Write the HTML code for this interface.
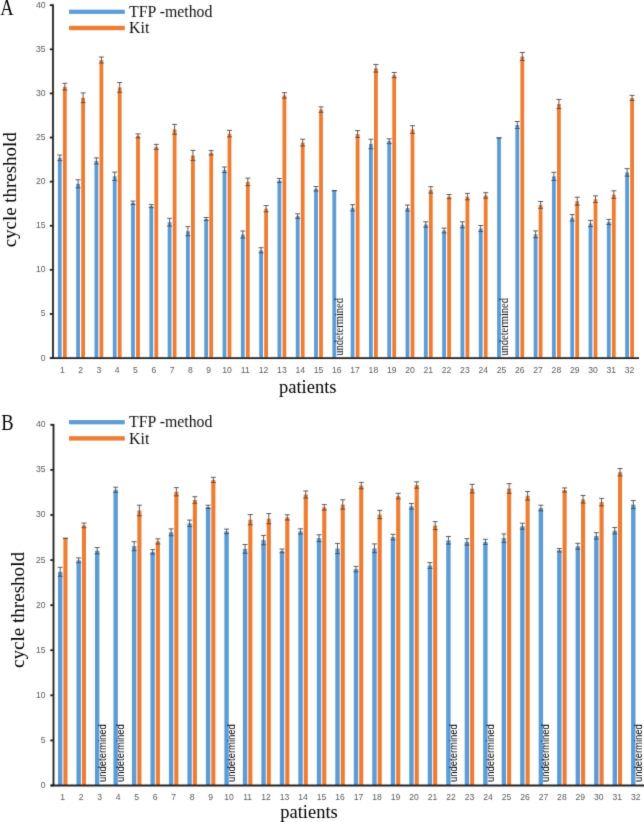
<!DOCTYPE html>
<html><head><meta charset="utf-8"><title>cycle threshold chart</title>
<style>
html,body{margin:0;padding:0;background:#fff;}
body{width:644px;height:822px;overflow:hidden;}
svg{display:block;}
#w{width:644px;height:822px;}
svg path{stroke:#4a4a4a;stroke-width:0.9;fill:none;}
svg path.ax{stroke:#1e1e1e;stroke-width:1.8;}
text{font-family:"Liberation Serif",serif;}
.yl{font-family:"Liberation Sans",sans-serif;font-size:8.6px;fill:#595959;text-anchor:end;}
.xl{font-family:"Liberation Sans",sans-serif;font-size:8.6px;fill:#595959;text-anchor:middle;}
.big{font-size:22.3px;fill:#000;}
.tt{font-size:18.5px;fill:#000;}
.lg{font-size:15.8px;fill:#111;}
.uA{font-family:"Liberation Serif",serif;font-size:11.6px;fill:#111;}
.uB{font-family:"Liberation Sans",sans-serif;font-size:10.3px;fill:#000;}
</style></head>
<body>
<div id="w">
<svg width="644" height="822" viewBox="0 0 644 822">
<defs><filter id="bl" x="0" y="0" width="644" height="822" filterUnits="userSpaceOnUse"><feConvolveMatrix order="3" kernelMatrix="1 6 1 6 40 6 1 6 1" divisor="68" edgeMode="duplicate"/></filter></defs>
<rect width="644" height="822" fill="#fff"/>
<g filter="url(#bl)">
<rect x="57.9" y="157.8" width="3.8" height="200.3" fill="#5B9BD5"/>
<rect x="62.9" y="86.7" width="3.8" height="271.4" fill="#ED7D31"/>
<rect x="76.2" y="183.8" width="3.8" height="174.3" fill="#5B9BD5"/>
<rect x="81.2" y="97.8" width="3.8" height="260.3" fill="#ED7D31"/>
<rect x="94.5" y="160.9" width="3.8" height="197.2" fill="#5B9BD5"/>
<rect x="99.5" y="60" width="3.8" height="298.1" fill="#ED7D31"/>
<rect x="112.8" y="176.3" width="3.8" height="181.8" fill="#5B9BD5"/>
<rect x="117.8" y="87.4" width="3.8" height="270.7" fill="#ED7D31"/>
<rect x="131.1" y="202.8" width="3.8" height="155.3" fill="#5B9BD5"/>
<rect x="136.1" y="135.9" width="3.8" height="222.2" fill="#ED7D31"/>
<rect x="149.4" y="206.1" width="3.8" height="152" fill="#5B9BD5"/>
<rect x="154.4" y="146.9" width="3.8" height="211.2" fill="#ED7D31"/>
<rect x="167.7" y="222.2" width="3.8" height="135.9" fill="#5B9BD5"/>
<rect x="172.7" y="129.3" width="3.8" height="228.8" fill="#ED7D31"/>
<rect x="186" y="231.2" width="3.8" height="126.9" fill="#5B9BD5"/>
<rect x="191" y="155.5" width="3.8" height="202.6" fill="#ED7D31"/>
<rect x="204.3" y="219" width="3.8" height="139.1" fill="#5B9BD5"/>
<rect x="209.3" y="152.8" width="3.8" height="205.3" fill="#ED7D31"/>
<rect x="222.6" y="169.8" width="3.8" height="188.3" fill="#5B9BD5"/>
<rect x="227.6" y="133.6" width="3.8" height="224.5" fill="#ED7D31"/>
<rect x="240.9" y="234.5" width="3.8" height="123.6" fill="#5B9BD5"/>
<rect x="245.9" y="181.9" width="3.8" height="176.2" fill="#ED7D31"/>
<rect x="259.2" y="250.3" width="3.8" height="107.8" fill="#5B9BD5"/>
<rect x="264.2" y="208.7" width="3.8" height="149.4" fill="#ED7D31"/>
<rect x="277.5" y="180.5" width="3.8" height="177.6" fill="#5B9BD5"/>
<rect x="282.5" y="95.4" width="3.8" height="262.7" fill="#ED7D31"/>
<rect x="295.8" y="216.1" width="3.8" height="142" fill="#5B9BD5"/>
<rect x="300.8" y="142.6" width="3.8" height="215.5" fill="#ED7D31"/>
<rect x="314.1" y="188.8" width="3.8" height="169.3" fill="#5B9BD5"/>
<rect x="319.1" y="109.6" width="3.8" height="248.5" fill="#ED7D31"/>
<rect x="332.4" y="190.7" width="3.8" height="167.4" fill="#5B9BD5"/>
<rect x="350.7" y="207.8" width="3.8" height="150.3" fill="#5B9BD5"/>
<rect x="355.7" y="134" width="3.8" height="224.1" fill="#ED7D31"/>
<rect x="369" y="144" width="3.8" height="214.1" fill="#5B9BD5"/>
<rect x="374" y="68.3" width="3.8" height="289.8" fill="#ED7D31"/>
<rect x="387.3" y="141.2" width="3.8" height="216.9" fill="#5B9BD5"/>
<rect x="392.3" y="75.1" width="3.8" height="283" fill="#ED7D31"/>
<rect x="405.6" y="208" width="3.8" height="150.1" fill="#5B9BD5"/>
<rect x="410.6" y="129.5" width="3.8" height="228.6" fill="#ED7D31"/>
<rect x="423.9" y="224.5" width="3.8" height="133.6" fill="#5B9BD5"/>
<rect x="428.9" y="189.9" width="3.8" height="168.2" fill="#ED7D31"/>
<rect x="442.2" y="230.5" width="3.8" height="127.6" fill="#5B9BD5"/>
<rect x="447.2" y="196.6" width="3.8" height="161.5" fill="#ED7D31"/>
<rect x="460.5" y="224.8" width="3.8" height="133.3" fill="#5B9BD5"/>
<rect x="465.5" y="196.6" width="3.8" height="161.5" fill="#ED7D31"/>
<rect x="478.8" y="228.5" width="3.8" height="129.6" fill="#5B9BD5"/>
<rect x="483.8" y="195.4" width="3.8" height="162.7" fill="#ED7D31"/>
<rect x="497.1" y="137.9" width="3.8" height="220.2" fill="#5B9BD5"/>
<rect x="515.4" y="125" width="3.8" height="233.1" fill="#5B9BD5"/>
<rect x="520.4" y="56.5" width="3.8" height="301.6" fill="#ED7D31"/>
<rect x="533.7" y="234.3" width="3.8" height="123.8" fill="#5B9BD5"/>
<rect x="538.7" y="204.9" width="3.8" height="153.2" fill="#ED7D31"/>
<rect x="552" y="176.4" width="3.8" height="181.7" fill="#5B9BD5"/>
<rect x="557" y="104" width="3.8" height="254.1" fill="#ED7D31"/>
<rect x="570.3" y="217.8" width="3.8" height="140.3" fill="#5B9BD5"/>
<rect x="575.3" y="201.2" width="3.8" height="156.9" fill="#ED7D31"/>
<rect x="588.6" y="223.5" width="3.8" height="134.6" fill="#5B9BD5"/>
<rect x="593.6" y="199.2" width="3.8" height="158.9" fill="#ED7D31"/>
<rect x="606.9" y="222" width="3.8" height="136.1" fill="#5B9BD5"/>
<rect x="611.9" y="194.6" width="3.8" height="163.5" fill="#ED7D31"/>
<rect x="625.2" y="172.4" width="3.8" height="185.7" fill="#5B9BD5"/>
<rect x="630.2" y="98" width="3.8" height="260.1" fill="#ED7D31"/>
<path d="M57.3 155H62.3M57.3 160.6H62.3M59.8 155V160.6"/>
<path d="M62.3 83.3H67.3M62.3 90.1H67.3M64.8 83.3V90.1"/>
<path d="M75.6 179.8H80.6M75.6 187.8H80.6M78.1 179.8V187.8"/>
<path d="M80.6 92.9H85.6M80.6 102.7H85.6M83.1 92.9V102.7"/>
<path d="M93.9 157.9H98.9M93.9 163.9H98.9M96.4 157.9V163.9"/>
<path d="M98.9 57H103.9M98.9 63H103.9M101.4 57V63"/>
<path d="M112.2 172.1H117.2M112.2 180.5H117.2M114.7 172.1V180.5"/>
<path d="M117.2 82.5H122.2M117.2 92.3H122.2M119.7 82.5V92.3"/>
<path d="M130.5 201.1H135.5M130.5 204.5H135.5M133 201.1V204.5"/>
<path d="M135.5 133.9H140.5M135.5 137.9H140.5M138 133.9V137.9"/>
<path d="M148.8 204.6H153.8M148.8 207.6H153.8M151.3 204.6V207.6"/>
<path d="M153.8 144.4H158.8M153.8 149.4H158.8M156.3 144.4V149.4"/>
<path d="M167.1 218.3H172.1M167.1 226.1H172.1M169.6 218.3V226.1"/>
<path d="M172.1 124.4H177.1M172.1 134.2H177.1M174.6 124.4V134.2"/>
<path d="M185.4 226.6H190.4M185.4 235.8H190.4M187.9 226.6V235.8"/>
<path d="M190.4 150.4H195.4M190.4 160.6H195.4M192.9 150.4V160.6"/>
<path d="M203.7 217.5H208.7M203.7 220.5H208.7M206.2 217.5V220.5"/>
<path d="M208.7 150.6H213.7M208.7 155H213.7M211.2 150.6V155"/>
<path d="M222 167H227M222 172.6H227M224.5 167V172.6"/>
<path d="M227 130.4H232M227 136.8H232M229.5 130.4V136.8"/>
<path d="M240.3 231H245.3M240.3 238H245.3M242.8 231V238"/>
<path d="M245.3 178.1H250.3M245.3 185.7H250.3M247.8 178.1V185.7"/>
<path d="M258.6 247.7H263.6M258.6 252.9H263.6M261.1 247.7V252.9"/>
<path d="M263.6 205.6H268.6M263.6 211.8H268.6M266.1 205.6V211.8"/>
<path d="M276.9 178.5H281.9M276.9 182.5H281.9M279.4 178.5V182.5"/>
<path d="M281.9 92.7H286.9M281.9 98.1H286.9M284.4 92.7V98.1"/>
<path d="M295.2 213.8H300.2M295.2 218.4H300.2M297.7 213.8V218.4"/>
<path d="M300.2 139.2H305.2M300.2 146H305.2M302.7 139.2V146"/>
<path d="M313.5 186.5H318.5M313.5 191.1H318.5M316 186.5V191.1"/>
<path d="M318.5 106.9H323.5M318.5 112.3H323.5M321 106.9V112.3"/>
<path d="M331.8 190.7H336.8M331.8 190.7H336.8"/>
<path d="M350.1 204.7H355.1M350.1 210.9H355.1M352.6 204.7V210.9"/>
<path d="M355.1 130.6H360.1M355.1 137.4H360.1M357.6 130.6V137.4"/>
<path d="M368.4 139.2H373.4M368.4 148.8H373.4M370.9 139.2V148.8"/>
<path d="M373.4 64.5H378.4M373.4 72.1H378.4M375.9 64.5V72.1"/>
<path d="M386.7 138.8H391.7M386.7 143.6H391.7M389.2 138.8V143.6"/>
<path d="M391.7 72.5H396.7M391.7 77.7H396.7M394.2 72.5V77.7"/>
<path d="M405 205H410M405 211H410M407.5 205V211"/>
<path d="M410 125.7H415M410 133.3H415M412.5 125.7V133.3"/>
<path d="M423.3 221.8H428.3M423.3 227.2H428.3M425.8 221.8V227.2"/>
<path d="M428.3 186.7H433.3M428.3 193.1H433.3M430.8 186.7V193.1"/>
<path d="M441.6 228.1H446.6M441.6 232.9H446.6M444.1 228.1V232.9"/>
<path d="M446.6 194.5H451.6M446.6 198.7H451.6M449.1 194.5V198.7"/>
<path d="M459.9 221.8H464.9M459.9 227.8H464.9M462.4 221.8V227.8"/>
<path d="M464.9 193.4H469.9M464.9 199.8H469.9M467.4 193.4V199.8"/>
<path d="M478.2 225.5H483.2M478.2 231.5H483.2M480.7 225.5V231.5"/>
<path d="M483.2 192.7H488.2M483.2 198.1H488.2M485.7 192.7V198.1"/>
<path d="M496.5 137.9H501.5M496.5 137.9H501.5"/>
<path d="M514.8 121.5H519.8M514.8 128.5H519.8M517.3 121.5V128.5"/>
<path d="M519.8 52.5H524.8M519.8 60.5H524.8M522.3 52.5V60.5"/>
<path d="M533.1 230.9H538.1M533.1 237.7H538.1M535.6 230.9V237.7"/>
<path d="M538.1 201.5H543.1M538.1 208.3H543.1M540.6 201.5V208.3"/>
<path d="M551.4 172.3H556.4M551.4 180.5H556.4M553.9 172.3V180.5"/>
<path d="M556.4 99.4H561.4M556.4 108.6H561.4M558.9 99.4V108.6"/>
<path d="M569.7 214.6H574.7M569.7 221H574.7M572.2 214.6V221"/>
<path d="M574.7 197.2H579.7M574.7 205.2H579.7M577.2 197.2V205.2"/>
<path d="M588 220.4H593M588 226.6H593M590.5 220.4V226.6"/>
<path d="M593 195.9H598M593 202.5H598M595.5 195.9V202.5"/>
<path d="M606.3 219.4H611.3M606.3 224.6H611.3M608.8 219.4V224.6"/>
<path d="M611.3 190.8H616.3M611.3 198.4H616.3M613.8 190.8V198.4"/>
<path d="M624.6 168.6H629.6M624.6 176.2H629.6M627.1 168.6V176.2"/>
<path d="M629.6 95.4H634.6M629.6 100.6H634.6M632.1 95.4V100.6"/>
<text class="uA" transform="translate(343.2 355.8) rotate(-90)" textLength="57.8" lengthAdjust="spacingAndGlyphs">undetermined</text>
<text class="uA" transform="translate(507.9 355.8) rotate(-90)" textLength="57.8" lengthAdjust="spacingAndGlyphs">undetermined</text>
<path class="ax" d="M53 4.3V358.1"/>
<path class="ax" d="M49.8 358.1H53"/>
<path class="ax" d="M49.8 313.99H53"/>
<path class="ax" d="M49.8 269.88H53"/>
<path class="ax" d="M49.8 225.76H53"/>
<path class="ax" d="M49.8 181.65H53"/>
<path class="ax" d="M49.8 137.54H53"/>
<path class="ax" d="M49.8 93.42H53"/>
<path class="ax" d="M49.8 49.31H53"/>
<path class="ax" d="M49.8 5.2H53"/>
<path class="ax" d="M50.4 358.1H639"/>
<text class="yl" x="45.6" y="360.6">0</text>
<text class="yl" x="45.6" y="316.49">5</text>
<text class="yl" x="45.6" y="272.38">10</text>
<text class="yl" x="45.6" y="228.26">15</text>
<text class="yl" x="45.6" y="184.15">20</text>
<text class="yl" x="45.6" y="140.04">25</text>
<text class="yl" x="45.6" y="95.92">30</text>
<text class="yl" x="45.6" y="51.81">35</text>
<text class="yl" x="45.6" y="7.7">40</text>
<text class="xl" x="62.3" y="372.7">1</text>
<text class="xl" x="80.6" y="372.7">2</text>
<text class="xl" x="98.9" y="372.7">3</text>
<text class="xl" x="117.2" y="372.7">4</text>
<text class="xl" x="135.5" y="372.7">5</text>
<text class="xl" x="153.8" y="372.7">6</text>
<text class="xl" x="172.1" y="372.7">7</text>
<text class="xl" x="190.4" y="372.7">8</text>
<text class="xl" x="208.7" y="372.7">9</text>
<text class="xl" x="227" y="372.7">10</text>
<text class="xl" x="245.3" y="372.7">11</text>
<text class="xl" x="263.6" y="372.7">12</text>
<text class="xl" x="281.9" y="372.7">13</text>
<text class="xl" x="300.2" y="372.7">14</text>
<text class="xl" x="318.5" y="372.7">15</text>
<text class="xl" x="336.8" y="372.7">16</text>
<text class="xl" x="355.1" y="372.7">17</text>
<text class="xl" x="373.4" y="372.7">18</text>
<text class="xl" x="391.7" y="372.7">19</text>
<text class="xl" x="410" y="372.7">20</text>
<text class="xl" x="428.3" y="372.7">21</text>
<text class="xl" x="446.6" y="372.7">22</text>
<text class="xl" x="464.9" y="372.7">23</text>
<text class="xl" x="483.2" y="372.7">24</text>
<text class="xl" x="501.5" y="372.7">25</text>
<text class="xl" x="519.8" y="372.7">26</text>
<text class="xl" x="538.1" y="372.7">27</text>
<text class="xl" x="556.4" y="372.7">28</text>
<text class="xl" x="574.7" y="372.7">29</text>
<text class="xl" x="593" y="372.7">30</text>
<text class="xl" x="611.3" y="372.7">31</text>
<text class="xl" x="629.6" y="372.7">32</text>
<text class="big" transform="translate(0.3 14.9) scale(0.83 1)">A</text>
<text class="tt" transform="translate(16.2 247.3) rotate(-90)" textLength="115" lengthAdjust="spacingAndGlyphs">cycle threshold</text>
<text class="tt" x="279" y="392.8">patients</text>
<rect x="69" y="9.7" width="55.8" height="4.2" fill="#5B9BD5"/>
<rect x="69" y="25.8" width="55.8" height="4.4" fill="#ED7D31"/>
<text class="lg" x="129.1" y="16.8">TFP -method</text>
<text class="lg" x="129.1" y="33.3">Kit</text>
<rect x="58" y="571.8" width="4.4" height="213.7" fill="#5B9BD5"/>
<rect x="63.4" y="538.3" width="4.1" height="247.2" fill="#ED7D31"/>
<rect x="76.49" y="560.3" width="4.4" height="225.2" fill="#5B9BD5"/>
<rect x="81.89" y="525.4" width="4.1" height="260.1" fill="#ED7D31"/>
<rect x="94.97" y="550.7" width="4.4" height="234.8" fill="#5B9BD5"/>
<rect x="113.46" y="489.8" width="4.4" height="295.7" fill="#5B9BD5"/>
<rect x="131.95" y="546.2" width="4.4" height="239.3" fill="#5B9BD5"/>
<rect x="137.35" y="510.5" width="4.1" height="275" fill="#ED7D31"/>
<rect x="150.44" y="551.9" width="4.4" height="233.6" fill="#5B9BD5"/>
<rect x="155.84" y="541.4" width="4.1" height="244.1" fill="#ED7D31"/>
<rect x="168.92" y="532.3" width="4.4" height="253.2" fill="#5B9BD5"/>
<rect x="174.32" y="491.7" width="4.1" height="293.8" fill="#ED7D31"/>
<rect x="187.41" y="523.3" width="4.4" height="262.2" fill="#5B9BD5"/>
<rect x="192.81" y="500" width="4.1" height="285.5" fill="#ED7D31"/>
<rect x="205.9" y="506.9" width="4.4" height="278.6" fill="#5B9BD5"/>
<rect x="211.3" y="479.9" width="4.1" height="305.6" fill="#ED7D31"/>
<rect x="224.38" y="531.4" width="4.4" height="254.1" fill="#5B9BD5"/>
<rect x="242.87" y="548.9" width="4.4" height="236.6" fill="#5B9BD5"/>
<rect x="248.27" y="519.7" width="4.1" height="265.8" fill="#ED7D31"/>
<rect x="261.36" y="540.1" width="4.4" height="245.4" fill="#5B9BD5"/>
<rect x="266.76" y="518.7" width="4.1" height="266.8" fill="#ED7D31"/>
<rect x="279.84" y="550.9" width="4.4" height="234.6" fill="#5B9BD5"/>
<rect x="285.24" y="517.4" width="4.1" height="268.1" fill="#ED7D31"/>
<rect x="298.33" y="531.4" width="4.4" height="254.1" fill="#5B9BD5"/>
<rect x="303.73" y="494.5" width="4.1" height="291" fill="#ED7D31"/>
<rect x="316.82" y="538.2" width="4.4" height="247.3" fill="#5B9BD5"/>
<rect x="322.22" y="507.3" width="4.1" height="278.2" fill="#ED7D31"/>
<rect x="335.3" y="548.5" width="4.4" height="237" fill="#5B9BD5"/>
<rect x="340.7" y="504.5" width="4.1" height="281" fill="#ED7D31"/>
<rect x="353.79" y="569.1" width="4.4" height="216.4" fill="#5B9BD5"/>
<rect x="359.19" y="485.6" width="4.1" height="299.9" fill="#ED7D31"/>
<rect x="372.28" y="548.3" width="4.4" height="237.2" fill="#5B9BD5"/>
<rect x="377.68" y="514.5" width="4.1" height="271" fill="#ED7D31"/>
<rect x="390.77" y="537.1" width="4.4" height="248.4" fill="#5B9BD5"/>
<rect x="396.17" y="496.1" width="4.1" height="289.4" fill="#ED7D31"/>
<rect x="409.25" y="506.3" width="4.4" height="279.2" fill="#5B9BD5"/>
<rect x="414.65" y="485" width="4.1" height="300.5" fill="#ED7D31"/>
<rect x="427.74" y="565.5" width="4.4" height="220" fill="#5B9BD5"/>
<rect x="433.14" y="525.6" width="4.1" height="259.9" fill="#ED7D31"/>
<rect x="446.23" y="540.3" width="4.4" height="245.2" fill="#5B9BD5"/>
<rect x="464.71" y="541.9" width="4.4" height="243.6" fill="#5B9BD5"/>
<rect x="470.11" y="488.6" width="4.1" height="296.9" fill="#ED7D31"/>
<rect x="483.2" y="541.9" width="4.4" height="243.6" fill="#5B9BD5"/>
<rect x="501.69" y="538.2" width="4.4" height="247.3" fill="#5B9BD5"/>
<rect x="507.09" y="488.5" width="4.1" height="297" fill="#ED7D31"/>
<rect x="520.17" y="526.2" width="4.4" height="259.3" fill="#5B9BD5"/>
<rect x="525.57" y="495.8" width="4.1" height="289.7" fill="#ED7D31"/>
<rect x="538.66" y="508" width="4.4" height="277.5" fill="#5B9BD5"/>
<rect x="557.15" y="550.2" width="4.4" height="235.3" fill="#5B9BD5"/>
<rect x="562.55" y="490" width="4.1" height="295.5" fill="#ED7D31"/>
<rect x="575.64" y="546.3" width="4.4" height="239.2" fill="#5B9BD5"/>
<rect x="581.04" y="499.3" width="4.1" height="286.2" fill="#ED7D31"/>
<rect x="594.12" y="535.9" width="4.4" height="249.6" fill="#5B9BD5"/>
<rect x="599.52" y="502.1" width="4.1" height="283.4" fill="#ED7D31"/>
<rect x="612.61" y="530.7" width="4.4" height="254.8" fill="#5B9BD5"/>
<rect x="618.01" y="472.2" width="4.1" height="313.3" fill="#ED7D31"/>
<rect x="631.1" y="504.6" width="4.4" height="280.9" fill="#5B9BD5"/>
<path d="M57.7 567.3H62.7M57.7 576.3H62.7M60.2 567.3V576.3"/>
<path d="M62.95 538.3H67.95M62.95 538.3H67.95"/>
<path d="M76.19 557.9H81.19M76.19 562.7H81.19M78.69 557.9V562.7"/>
<path d="M81.44 523.1H86.44M81.44 527.7H86.44M83.94 523.1V527.7"/>
<path d="M94.67 547.6H99.67M94.67 553.8H99.67M97.17 547.6V553.8"/>
<path d="M113.16 487.2H118.16M113.16 492.4H118.16M115.66 487.2V492.4"/>
<path d="M131.65 541.7H136.65M131.65 550.7H136.65M134.15 541.7V550.7"/>
<path d="M136.9 505.2H141.9M136.9 515.8H141.9M139.4 505.2V515.8"/>
<path d="M150.13 549.6H155.13M150.13 554.2H155.13M152.63 549.6V554.2"/>
<path d="M155.39 538.8H160.39M155.39 544H160.39M157.89 538.8V544"/>
<path d="M168.62 528.9H173.62M168.62 535.7H173.62M171.12 528.9V535.7"/>
<path d="M173.87 487.6H178.87M173.87 495.8H178.87M176.37 487.6V495.8"/>
<path d="M187.11 520.1H192.11M187.11 526.5H192.11M189.61 520.1V526.5"/>
<path d="M192.36 496.7H197.36M192.36 503.3H197.36M194.86 496.7V503.3"/>
<path d="M205.6 505.2H210.6M205.6 508.6H210.6M208.1 505.2V508.6"/>
<path d="M210.85 477.3H215.85M210.85 482.5H215.85M213.35 477.3V482.5"/>
<path d="M224.08 529.1H229.08M224.08 533.7H229.08M226.58 529.1V533.7"/>
<path d="M242.57 544.5H247.57M242.57 553.3H247.57M245.07 544.5V553.3"/>
<path d="M247.82 514.6H252.82M247.82 524.8H252.82M250.32 514.6V524.8"/>
<path d="M261.06 535.4H266.06M261.06 544.8H266.06M263.56 535.4V544.8"/>
<path d="M266.31 513.6H271.31M266.31 523.8H271.31M268.81 513.6V523.8"/>
<path d="M279.54 549H284.54M279.54 552.8H284.54M282.04 549V552.8"/>
<path d="M284.79 514.8H289.79M284.79 520H289.79M287.29 514.8V520"/>
<path d="M298.03 528.8H303.03M298.03 534H303.03M300.53 528.8V534"/>
<path d="M303.28 490.9H308.28M303.28 498.1H308.28M305.78 490.9V498.1"/>
<path d="M316.52 534.8H321.52M316.52 541.6H321.52M319.02 534.8V541.6"/>
<path d="M321.77 504.6H326.77M321.77 510H326.77M324.27 504.6V510"/>
<path d="M335 543.4H340M335 553.6H340M337.5 543.4V553.6"/>
<path d="M340.25 499.8H345.25M340.25 509.2H345.25M342.75 499.8V509.2"/>
<path d="M353.49 566.4H358.49M353.49 571.8H358.49M355.99 566.4V571.8"/>
<path d="M358.74 482.4H363.74M358.74 488.8H363.74M361.24 482.4V488.8"/>
<path d="M371.98 543.9H376.98M371.98 552.7H376.98M374.48 543.9V552.7"/>
<path d="M377.23 510.4H382.23M377.23 518.6H382.23M379.73 510.4V518.6"/>
<path d="M390.47 534.3H395.47M390.47 539.9H395.47M392.97 534.3V539.9"/>
<path d="M395.72 493.3H400.72M395.72 498.9H400.72M398.22 493.3V498.9"/>
<path d="M408.95 503.5H413.95M408.95 509.1H413.95M411.45 503.5V509.1"/>
<path d="M414.2 481.8H419.2M414.2 488.2H419.2M416.7 481.8V488.2"/>
<path d="M427.44 562.6H432.44M427.44 568.4H432.44M429.94 562.6V568.4"/>
<path d="M432.69 521.6H437.69M432.69 529.6H437.69M435.19 521.6V529.6"/>
<path d="M445.93 536.5H450.93M445.93 544.1H450.93M448.43 536.5V544.1"/>
<path d="M464.41 538.7H469.41M464.41 545.1H469.41M466.91 538.7V545.1"/>
<path d="M469.66 484.3H474.66M469.66 492.9H474.66M472.16 484.3V492.9"/>
<path d="M482.9 539.3H487.9M482.9 544.5H487.9M485.4 539.3V544.5"/>
<path d="M501.39 533.9H506.39M501.39 542.5H506.39M503.89 533.9V542.5"/>
<path d="M506.64 483.6H511.64M506.64 493.4H511.64M509.14 483.6V493.4"/>
<path d="M519.88 523.2H524.88M519.88 529.2H524.88M522.38 523.2V529.2"/>
<path d="M525.12 491.5H530.12M525.12 500.1H530.12M527.62 491.5V500.1"/>
<path d="M538.36 505.2H543.36M538.36 510.8H543.36M540.86 505.2V510.8"/>
<path d="M556.85 548.5H561.85M556.85 551.9H561.85M559.35 548.5V551.9"/>
<path d="M562.1 487.9H567.1M562.1 492.1H567.1M564.6 487.9V492.1"/>
<path d="M575.34 543.3H580.34M575.34 549.3H580.34M577.84 543.3V549.3"/>
<path d="M580.59 495.5H585.59M580.59 503.1H585.59M583.09 495.5V503.1"/>
<path d="M593.82 532.7H598.82M593.82 539.1H598.82M596.32 532.7V539.1"/>
<path d="M599.07 498.4H604.07M599.07 505.8H604.07M601.57 498.4V505.8"/>
<path d="M612.31 527.5H617.31M612.31 533.9H617.31M614.81 527.5V533.9"/>
<path d="M617.56 468.5H622.56M617.56 475.9H622.56M620.06 468.5V475.9"/>
<path d="M630.8 500.6H635.8M630.8 508.6H635.8M633.3 500.6V508.6"/>
<text class="uB" transform="translate(105.77 782.1) rotate(-90)" textLength="58" lengthAdjust="spacingAndGlyphs">undetermined</text>
<text class="uB" transform="translate(124.26 782.1) rotate(-90)" textLength="58" lengthAdjust="spacingAndGlyphs">undetermined</text>
<text class="uB" transform="translate(235.18 782.1) rotate(-90)" textLength="58" lengthAdjust="spacingAndGlyphs">undetermined</text>
<text class="uB" transform="translate(457.03 782.1) rotate(-90)" textLength="58" lengthAdjust="spacingAndGlyphs">undetermined</text>
<text class="uB" transform="translate(494 782.1) rotate(-90)" textLength="58" lengthAdjust="spacingAndGlyphs">undetermined</text>
<text class="uB" transform="translate(549.46 782.1) rotate(-90)" textLength="58" lengthAdjust="spacingAndGlyphs">undetermined</text>
<text class="uB" transform="translate(641.9 782.1) rotate(-90)" textLength="58" lengthAdjust="spacingAndGlyphs">undetermined</text>
<path class="ax" d="M53.5 423.9V785.5"/>
<path class="ax" d="M50.3 785.5H53.5"/>
<path class="ax" d="M50.3 740.41H53.5"/>
<path class="ax" d="M50.3 695.33H53.5"/>
<path class="ax" d="M50.3 650.24H53.5"/>
<path class="ax" d="M50.3 605.15H53.5"/>
<path class="ax" d="M50.3 560.06H53.5"/>
<path class="ax" d="M50.3 514.98H53.5"/>
<path class="ax" d="M50.3 469.89H53.5"/>
<path class="ax" d="M50.3 424.8H53.5"/>
<path class="ax" d="M50.9 785.5H645"/>
<text class="yl" x="45.6" y="788">0</text>
<text class="yl" x="45.6" y="742.91">5</text>
<text class="yl" x="45.6" y="697.83">10</text>
<text class="yl" x="45.6" y="652.74">15</text>
<text class="yl" x="45.6" y="607.65">20</text>
<text class="yl" x="45.6" y="562.56">25</text>
<text class="yl" x="45.6" y="517.48">30</text>
<text class="yl" x="45.6" y="472.39">35</text>
<text class="yl" x="45.6" y="427.3">40</text>
<text class="xl" x="62.75" y="800.1">1</text>
<text class="xl" x="81.24" y="800.1">2</text>
<text class="xl" x="99.72" y="800.1">3</text>
<text class="xl" x="118.21" y="800.1">4</text>
<text class="xl" x="136.7" y="800.1">5</text>
<text class="xl" x="155.19" y="800.1">6</text>
<text class="xl" x="173.67" y="800.1">7</text>
<text class="xl" x="192.16" y="800.1">8</text>
<text class="xl" x="210.65" y="800.1">9</text>
<text class="xl" x="229.13" y="800.1">10</text>
<text class="xl" x="247.62" y="800.1">11</text>
<text class="xl" x="266.11" y="800.1">12</text>
<text class="xl" x="284.59" y="800.1">13</text>
<text class="xl" x="303.08" y="800.1">14</text>
<text class="xl" x="321.57" y="800.1">15</text>
<text class="xl" x="340.05" y="800.1">16</text>
<text class="xl" x="358.54" y="800.1">17</text>
<text class="xl" x="377.03" y="800.1">18</text>
<text class="xl" x="395.52" y="800.1">19</text>
<text class="xl" x="414" y="800.1">20</text>
<text class="xl" x="432.49" y="800.1">21</text>
<text class="xl" x="450.98" y="800.1">22</text>
<text class="xl" x="469.46" y="800.1">23</text>
<text class="xl" x="487.95" y="800.1">24</text>
<text class="xl" x="506.44" y="800.1">25</text>
<text class="xl" x="524.92" y="800.1">26</text>
<text class="xl" x="543.41" y="800.1">27</text>
<text class="xl" x="561.9" y="800.1">28</text>
<text class="xl" x="580.39" y="800.1">29</text>
<text class="xl" x="598.87" y="800.1">30</text>
<text class="xl" x="617.36" y="800.1">31</text>
<text class="xl" x="635.85" y="800.1">32</text>
<text class="big" transform="translate(1.2 430.4) scale(0.83 1)">B</text>
<text class="tt" transform="translate(24.3 668) rotate(-90)" textLength="116" lengthAdjust="spacingAndGlyphs">cycle threshold</text>
<text class="tt" x="280.2" y="817.8">patients</text>
<rect x="69" y="420.1" width="55.8" height="4.2" fill="#5B9BD5"/>
<rect x="69" y="436.2" width="55.8" height="4.4" fill="#ED7D31"/>
<text class="lg" x="129.1" y="427.2">TFP -method</text>
<text class="lg" x="129.1" y="443.7">Kit</text>
</g>
</svg>
</div>
</body></html>
